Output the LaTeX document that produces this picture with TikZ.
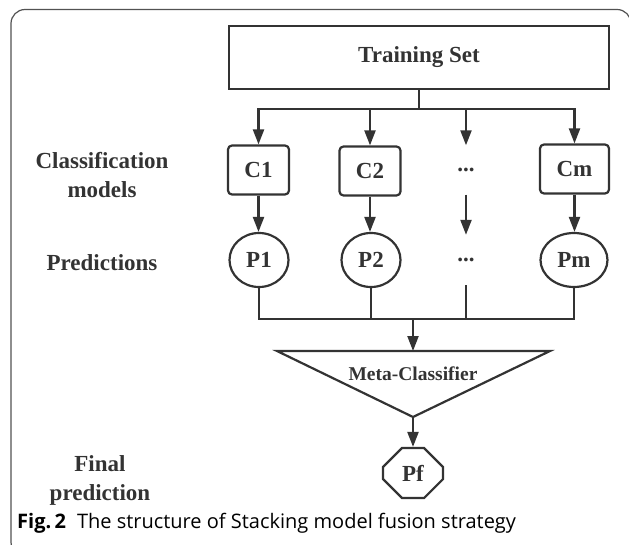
\documentclass[tikz,border=0pt]{standalone}
\usepackage{fontspec}
\setmainfont{Liberation Serif}
\newfontfamily\capfont{Open Sans}
\usetikzlibrary{arrows.meta,shapes.geometric,shapes.misc}
\definecolor{ink}{HTML}{333333}
\tikzset{
    diag-text/.style = {text=ink, font=\fontsize{23}{29}\selectfont\bfseries},
    train-box/.style = {draw=ink, line width=2.2pt, rectangle, diag-text, minimum width=380pt, minimum height=63pt},
    model-box/.style = {draw=ink, line width=2.2pt, rectangle, rounded corners=4pt, diag-text, minimum width=61pt, minimum height=49pt},
    pred-ellipse/.style = {draw=ink, line width=2.2pt, ellipse, diag-text, inner sep=0pt, minimum width=59pt, minimum height=54pt},
    final-octagon/.style = {draw=ink, line width=2.2pt, chamfered rectangle, chamfered rectangle xsep=15pt, chamfered rectangle ysep=14pt, diag-text, inner sep=0pt, minimum width=60pt, minimum height=50pt},
    row-label/.style = {diag-text, align=center},
    link/.style = {draw=ink, line width=2.2pt},
    arrow-link/.style = {link, -{Triangle[length=15pt, width=11pt]}},
    frame-line/.style = {draw=ink!85, line width=1.2pt, rounded corners=14pt},
}

\begin{document}
\begin{tikzpicture}[x=1pt, y=-1pt]
\clip (0,0) rectangle (629,545);
\draw[frame-line] (11,9.5) rectangle (631,556);

\node[train-box] (train) at (419,57.5) {Training Set};
\coordinate (split) at (419,109);

\node[model-box] (c1) at (258.5,170) {C1};
\node[model-box] (c2) at (370,171) {C2};
\node[diag-text, minimum height=49pt] (dots1) at (466,170) {...};
\node[model-box, minimum width=69pt] (cm) at (574.5,169) {Cm};

\node[pred-ellipse] (p1) at (259,260) {P1};
\node[pred-ellipse] (p2) at (371,260) {P2};
\node[diag-text, minimum height=50pt] (dots2) at (466,260) {...};
\node[pred-ellipse, minimum width=67pt] (pm) at (574,260) {Pm};

\node[row-label] (lab-models) at (102,175.5) {Classification\\models};
\node[row-label] (lab-pred) at (102,263) {Predictions};
\node[row-label] (lab-final) at (100,480) {Final\\prediction};

\draw[link] (train) -- (split);
\foreach \n in {c1,c2,dots1,cm}
    \draw[arrow-link] (split) -| (\n.north);
\foreach \c/\p in {c1/p1,c2/p2,cm/pm}
    \draw[arrow-link] (\c.south) -- (\p.north -| \c.south);
\draw[arrow-link] (dots1.south) -- (dots2.north);

\coordinate (join) at (413,319);
\foreach \n in {p1,p2,dots2,pm}
    \draw[link] (\n.south) |- (join);

\coordinate (meta-top) at (413,351);
\coordinate (meta-apex) at (413,417);
\draw[link, line join=miter] (277,351) -- (550,351) -- (meta-apex) -- cycle;
\node[diag-text, font=\fontsize{19.5}{22}\selectfont\bfseries] (meta) at (413,374) {Meta-Classifier};
\draw[arrow-link] (join) -- (meta-top);

\node[final-octagon] (pf) at (413,473) {Pf};
\draw[arrow-link] (meta-apex) -- (pf.north);

\node[anchor=base west, inner sep=0pt, font=\capfont\fontsize{20}{24}\selectfont] (caption) at (17,528) {{\bfseries Fig.\,2}\hspace{0.55em}The structure of Stacking model fusion strategy};
\end{tikzpicture}
\end{document}
